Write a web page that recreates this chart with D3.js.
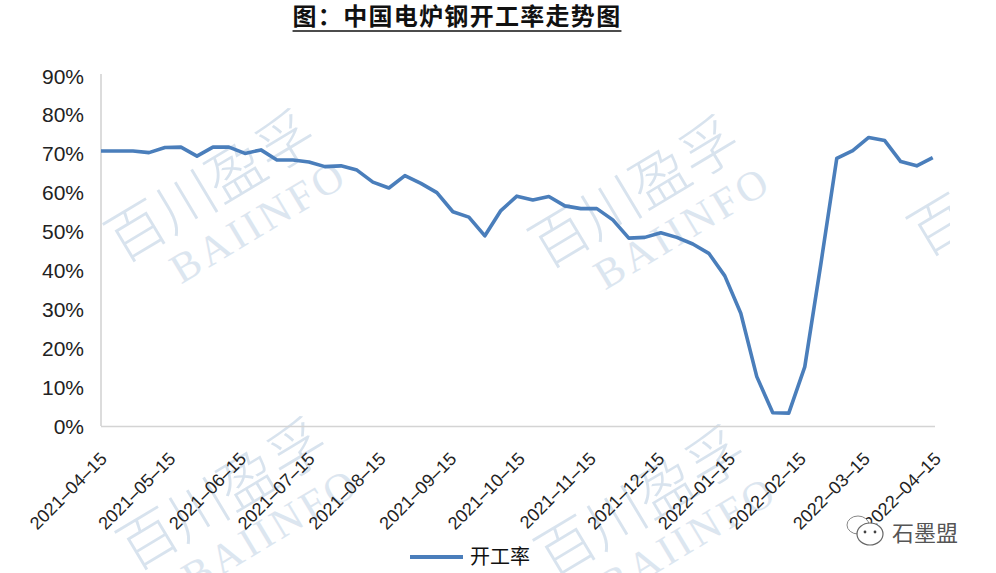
<!DOCTYPE html>
<html>
<head>
<meta charset="utf-8">
<script src="https://d3js.org/d3.v7.min.js"></script>
<style>
  body { margin: 0; background: #fff; }
  svg { display: block; }
</style>
</head>
<body>
<svg width="996" height="573"></svg>
<script>
// 中国电炉钢开工率 weekly series

var dates = [
  "2021-04-15","2021-04-22","2021-04-29","2021-05-06","2021-05-13","2021-05-20","2021-05-27",
  "2021-06-03","2021-06-10","2021-06-17","2021-06-24","2021-07-01","2021-07-08","2021-07-15",
  "2021-07-22","2021-07-29","2021-08-05","2021-08-12","2021-08-19","2021-08-26","2021-09-02",
  "2021-09-09","2021-09-16","2021-09-23","2021-09-30","2021-10-07","2021-10-14","2021-10-21",
  "2021-10-28","2021-11-04","2021-11-11","2021-11-18","2021-11-25","2021-12-02","2021-12-09",
  "2021-12-16","2021-12-23","2021-12-30","2022-01-06","2022-01-13","2022-01-20","2022-01-27",
  "2022-02-03","2022-02-10","2022-02-17","2022-02-24","2022-03-03","2022-03-10","2022-03-17",
  "2022-03-24","2022-03-31","2022-04-07","2022-04-14"
];

// 开工率 (%)
var rates = [
  70.7, 70.7, 70.7, 70.3, 71.6, 71.7, 69.4,
  71.7, 71.7, 70.1, 71.0, 68.4, 68.4, 67.9,
  66.7, 66.9, 65.8, 62.7, 61.2, 64.4, 62.4,
  60.0, 55.1, 53.7, 48.9, 55.4, 59.1, 58.1,
  59.0, 56.6, 55.9, 55.9, 53.0, 48.3, 48.5,
  49.7, 48.5, 46.8, 44.4, 38.6, 29.0, 12.7,
  3.4, 3.3, 15.2, 41.5, 68.8, 70.8, 74.2,
  73.4, 68.0, 66.9, 69.0
];

var tickDates = [
  "2021-04-15","2021-05-15","2021-06-15","2021-07-15","2021-08-15","2021-09-15",
  "2021-10-15","2021-11-15","2021-12-15","2022-01-15","2022-02-15","2022-03-15","2022-04-15"
];

var yTicks = [0, 10, 20, 30, 40, 50, 60, 70, 80, 90];

var seriesName = "开工率";
var title = "图：中国电炉钢开工率走势图";

var svg = d3.select("svg"),
    width = +svg.attr("width"),
    height = +svg.attr("height");

var parse = d3.timeParse("%Y-%m-%d");
var lineColor = "#4a7ebb";

var x = d3.scaleTime()
    .domain([parse(tickDates[0]), parse(tickDates[tickDates.length - 1])])
    .range([101, 935]);

var y = d3.scaleLinear()
    .domain([0, 90])
    .range([426, 76]);

// watermarks (百川盈孚 BAIINFO), drawn behind everything
svg.append("clipPath").attr("id", "wmclip")
  .append("rect").attr("x", 0).attr("y", 0).attr("width", 950).attr("height", height);

var wm = svg.append("g")
    .attr("class", "watermark")
    .attr("clip-path", "url(#wmclip)");

var wmSpots = [[122, 264], [546, 270], [925, 258], [134, 572], [552, 580]];

wmSpots.forEach(function(p) {
  var g = wm.append("g")
      .attr("transform", "translate(" + p[0] + "," + p[1] + ") rotate(-31)");
  g.append("text")
      .style("font-family", "'Noto Sans CJK SC', sans-serif")
      .style("font-size", "58px")
      .style("font-weight", 300)
      .attr("fill", "#d8e3ee")
      .text("百川盈孚");
  g.append("text")
      .attr("x", 40)
      .attr("y", 48)
      .style("font-family", "'Liberation Serif', serif")
      .style("font-size", "42px")
      .style("letter-spacing", "4px")
      .attr("fill", "#dce6f0")
      .text("BAIINFO");
});

// title
var titleText = svg.append("text")
    .attr("x", 457)
    .attr("y", 25)
    .attr("text-anchor", "middle")
    .style("font-family", "'Noto Sans CJK SC', sans-serif")
    .style("font-size", "24px")
    .style("font-weight", "bold")
    .style("letter-spacing", "1.3px")
    .attr("fill", "#111")
    .text(title);

var tb = titleText.node().getBBox();
svg.append("line")
    .attr("x1", tb.x)
    .attr("x2", tb.x + tb.width)
    .attr("y1", 31)
    .attr("y2", 31)
    .attr("stroke", "#111")
    .attr("stroke-width", 1.6);

// axes lines
svg.append("line")
    .attr("x1", x.range()[0]).attr("x2", x.range()[0])
    .attr("y1", y(90) - 2).attr("y2", y(0))
    .attr("stroke", "#d4d4d4")
    .attr("stroke-width", 1.6);

svg.append("line")
    .attr("x1", x.range()[0]).attr("x2", x.range()[1])
    .attr("y1", y(0) + 0.5).attr("y2", y(0) + 0.5)
    .attr("stroke", "#d4d4d4")
    .attr("stroke-width", 1.6);

// y tick labels
svg.append("g")
    .selectAll("text")
    .data(yTicks)
    .enter().append("text")
      .attr("x", 84)
      .attr("y", function(d) { return y(d); })
      .attr("dy", "0.36em")
      .attr("text-anchor", "end")
      .style("font-family", "'Liberation Sans', Arial, sans-serif")
      .style("font-size", "21px")
      .attr("fill", "#222")
      .text(function(d) { return d + "%"; });

// x tick labels, rotated
svg.append("g")
    .selectAll("text")
    .data(tickDates)
    .enter().append("text")
      .attr("transform", function(d) {
        return "translate(" + (x(parse(d)) + 7) + ",460) rotate(-45)";
      })
      .attr("text-anchor", "end")
      .style("font-family", "'Liberation Sans', Arial, sans-serif")
      .style("font-size", "18px")
      .attr("fill", "#222")
      .text(function(d) { return d.replace(/-/g, "\u2013"); });

// the line
var points = dates.map(function(d, i) { return { date: parse(d), value: rates[i] }; });

svg.append("path")
    .datum(points)
    .attr("fill", "none")
    .attr("stroke", lineColor)
    .attr("stroke-width", 3.6)
    .attr("stroke-linejoin", "round")
    .attr("d", d3.line()
        .x(function(d) { return x(d.date); })
        .y(function(d) { return y(d.value); }));

// legend
svg.append("line")
    .attr("x1", 410).attr("x2", 463)
    .attr("y1", 557).attr("y2", 557)
    .attr("stroke", lineColor)
    .attr("stroke-width", 4);

svg.append("text")
    .attr("x", 470)
    .attr("y", 564)
    .style("font-family", "'Noto Sans CJK SC', sans-serif")
    .style("font-size", "20px")
    .attr("fill", "#111")
    .text(seriesName);

// 石墨盟 badge bottom right
var logo = svg.append("g").attr("transform", "translate(848,512)");
logo.append("ellipse")
    .attr("cx", 10).attr("cy", 13).attr("rx", 11).attr("ry", 9)
    .attr("fill", "#fff").attr("stroke", "#888").attr("stroke-width", 1);
logo.append("ellipse")
    .attr("cx", 22).attr("cy", 22).attr("rx", 13).attr("ry", 11)
    .attr("fill", "#fff").attr("stroke", "#666").attr("stroke-width", 1.2);
logo.append("circle").attr("cx", 17).attr("cy", 20).attr("r", 1.4).attr("fill", "#444");
logo.append("circle").attr("cx", 27).attr("cy", 20).attr("r", 1.4).attr("fill", "#444");
logo.append("text")
    .attr("x", 44)
    .attr("y", 29)
    .style("font-family", "'Noto Sans CJK SC', sans-serif")
    .style("font-size", "22px")
    .attr("fill", "#555")
    .text("石墨盟");
</script>
</body>
</html>
